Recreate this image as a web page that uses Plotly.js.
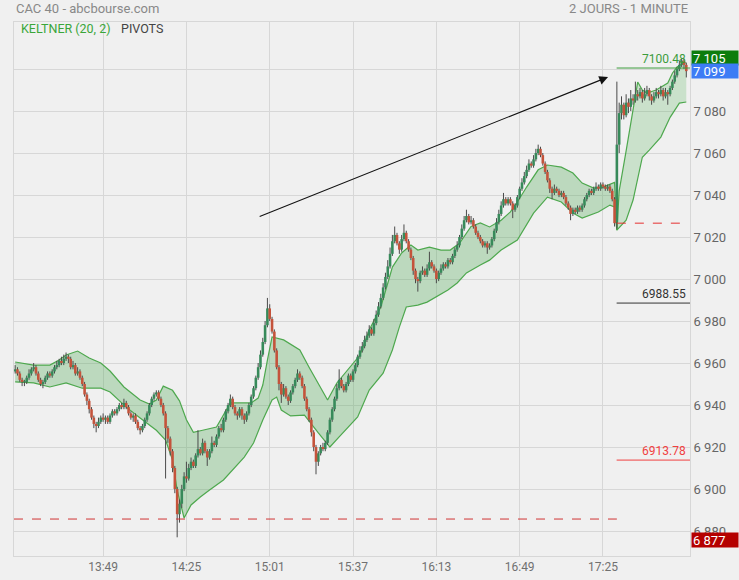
<!DOCTYPE html>
<html><head><meta charset="utf-8">
<script src="https://cdn.plot.ly/plotly-3.0.1.min.js"></script>
<style>html,body{margin:0;padding:0;background:#f0f0f0}#chart{width:739px;height:580px}</style>
</head><body><div id="chart"></div>
<script>
// one-minute session labels
function session(h, m, n) {
  var out = [];
  for (var k = 0; k < n; k++) {
    var t = h * 60 + m + k;
    out.push(String(Math.floor(t / 60)).padStart(2, '0') + ':' + String(t % 60).padStart(2, '0'));
  }
  return out;
}
const times = session(13, 11, 260).concat(session(9, 0, 31));
const tickLabels = ['13:49', '14:25', '15:01', '15:37', '16:13', '16:49', '17:25'];

const open = [
6956,6957,6955,6952,6951,6951,6953,6955,6957,6958,
6955,6952,6950,6951,6953,6955,6954,6956,6958,6959,
6961,6960,6962,6963,6962,6958,6959,6955,6956,6953,
6950,6945,6942,6938,6934,6931,6930,6932,6934,6933,
6934,6932,6935,6937,6936,6938,6940,6939,6941,6939,
6936,6934,6935,6932,6929,6928,6930,6933,6936,6940,
6943,6945,6946,6943,6940,6936,6929,6924,6918,6910,
6900,6888,6893,6900,6906,6905,6910,6913,6911,6916,
6919,6917,6922,6918,6915,6918,6922,6921,6925,6929,
6928,6933,6937,6940,6943,6939,6936,6935,6938,6935,
6933,6936,6940,6944,6948,6953,6958,6964,6970,6978,
6986,6981,6975,6966,6958,6950,6945,6948,6944,6942,
6946,6949,6952,6955,6953,6949,6943,6938,6933,6927,
6920,6913,6917,6920,6919,6922,6927,6933,6938,6943,
6948,6952,6949,6947,6950,6954,6952,6956,6959,6963,
6966,6968,6971,6973,6976,6974,6979,6983,6987,6991,
6996,7001,7006,7012,7018,7021,7017,7014,7019,7022,
7018,7014,7010,7004,7000,6999,7003,7004,7002,7005,
7008,7006,7004,7000,7003,7005,7007,7006,7009,7008,
7011,7014,7016,7020,7024,7028,7030,7027,7028,7025,
7022,7020,7018,7016,7017,7015,7016,7019,7023,7027,
7031,7035,7038,7036,7038,7036,7033,7035,7039,7043,
7046,7049,7052,7055,7054,7057,7060,7062,7059,7055,
7051,7047,7043,7041,7043,7042,7040,7041,7039,7036,
7034,7031,7033,7032,7034,7033,7035,7038,7040,7042,
7041,7043,7044,7043,7045,7044,7043,7044,7042,7038,
7027,7064,7079,7083,7078,7084,7082,7086,7085,7088,
7087,7089,7086,7088,7090,7087,7085,7087,7089,7088,
7090,7087,7089,7088,7091,7094,7097,7100,7102,7104,7102];

const high = [
6959,6958,6956,6953,6952,6954,6957,6958,6960,6959,
6956,6953,6952,6954,6956,6956,6957,6959,6961,6962,
6963,6964,6965,6964,6963,6961,6960,6958,6957,6954,
6951,6946,6943,6939,6935,6932,6934,6935,6936,6935,
6935,6936,6938,6938,6939,6941,6941,6943,6942,6940,
6937,6936,6936,6933,6930,6931,6934,6937,6941,6944,
6946,6947,6947,6944,6941,6937,6930,6925,6919,6911,
6901,6895,6902,6908,6913,6912,6915,6914,6917,6928,
6920,6924,6923,6919,6919,6925,6923,6926,6930,6931,
6934,6938,6941,6945,6944,6940,6937,6939,6939,6936,
6937,6941,6945,6949,6954,6960,6966,6972,6980,6991,
6988,6982,6976,6967,6959,6951,6950,6949,6945,6947,
6950,6953,6957,6956,6954,6950,6944,6939,6934,6928,
6921,6918,6921,6922,6923,6928,6934,6939,6944,6950,
6957,6953,6950,6951,6955,6955,6957,6960,6964,6968,
6970,6973,6975,6978,6977,6981,6985,6989,6993,6998,
7003,7009,7015,7021,7025,7022,7018,7021,7026,7023,
7019,7015,7011,7005,7001,7004,7006,7005,7007,7013,
7009,7007,7005,7004,7007,7008,7008,7010,7010,7012,
7015,7018,7021,7026,7030,7033,7031,7030,7029,7026,
7023,7021,7019,7018,7018,7017,7020,7024,7029,7033,
7037,7041,7039,7039,7039,7037,7036,7040,7044,7048,
7051,7054,7057,7056,7059,7062,7064,7063,7060,7056,
7052,7048,7044,7045,7044,7043,7042,7042,7040,7037,
7035,7034,7034,7035,7035,7036,7039,7041,7043,7043,
7044,7046,7045,7046,7046,7045,7045,7045,7043,7039,
7094,7084,7087,7084,7088,7086,7090,7088,7094,7090,
7091,7090,7091,7092,7091,7088,7089,7091,7090,7092,
7091,7091,7090,7092,7095,7099,7101,7104,7105,7105,7103];

const low = [
6955,6954,6951,6949,6949,6950,6952,6954,6956,6954,
6951,6949,6948,6950,6952,6953,6953,6955,6957,6958,
6959,6959,6961,6960,6957,6957,6954,6954,6952,6949,
6944,6940,6936,6933,6929,6927,6929,6931,6932,6931,
6931,6931,6934,6935,6935,6937,6938,6938,6938,6935,
6933,6932,6931,6928,6926,6927,6929,6932,6935,6939,
6942,6944,6942,6939,6935,6905,6922,6916,6908,6898,
6877,6884,6891,6899,6903,6904,6909,6910,6910,6915,
6916,6916,6917,6911,6914,6917,6920,6920,6924,6927,
6927,6932,6936,6939,6938,6935,6933,6934,6933,6931,
6932,6935,6939,6943,6947,6952,6957,6963,6969,6977,
6980,6974,6965,6957,6947,6941,6944,6943,6940,6941,
6945,6948,6951,6952,6948,6942,6937,6932,6925,6918,
6907,6911,6916,6918,6918,6921,6926,6932,6937,6942,
6947,6948,6946,6946,6949,6951,6951,6955,6958,6962,
6965,6967,6970,6972,6973,6973,6978,6982,6986,6990,
6995,7000,7005,7011,7017,7016,7012,7013,7018,7017,
7013,7009,7002,6998,6994,6998,7002,7001,7001,7004,
7005,7003,6998,6999,7002,7004,7005,7005,7007,7007,
7010,7013,7015,7019,7023,7027,7026,7026,7024,7021,
7019,7017,7015,7015,7012,7014,7015,7018,7022,7026,
7030,7034,7035,7035,7035,7029,7032,7034,7038,7042,
7045,7048,7051,7053,7053,7056,7059,7058,7054,7050,
7046,7041,7038,7040,7041,7039,7039,7038,7035,7033,
7028,7030,7031,7031,7032,7032,7034,7037,7039,7040,
7040,7042,7042,7042,7043,7042,7042,7041,7037,7025,
7024,7060,7076,7076,7077,7079,7080,7083,7084,7085,
7086,7084,7085,7087,7085,7083,7084,7086,7086,7087,
7085,7086,7083,7087,7090,7093,7096,7099,7101,7100,7096];

const close = [
6957,6955,6952,6951,6951,6953,6955,6957,6958,6955,
6952,6950,6951,6953,6955,6954,6956,6958,6959,6961,
6960,6962,6963,6962,6958,6959,6955,6956,6953,6950,
6945,6942,6938,6934,6931,6930,6932,6934,6933,6934,
6932,6935,6937,6936,6938,6940,6939,6941,6939,6936,
6934,6935,6932,6929,6928,6930,6933,6936,6940,6943,
6945,6946,6943,6940,6936,6929,6924,6918,6910,6900,
6888,6893,6900,6906,6905,6910,6913,6911,6916,6919,
6917,6922,6918,6915,6918,6922,6921,6925,6929,6928,
6933,6937,6940,6943,6939,6936,6935,6938,6935,6933,
6936,6940,6944,6948,6953,6958,6964,6970,6978,6986,
6981,6975,6966,6958,6950,6945,6948,6944,6942,6946,
6949,6952,6955,6953,6949,6943,6938,6933,6927,6920,
6913,6917,6920,6919,6922,6927,6933,6938,6943,6948,
6952,6949,6947,6950,6954,6952,6956,6959,6963,6966,
6968,6971,6973,6976,6974,6979,6983,6987,6991,6996,
7001,7006,7012,7018,7021,7017,7014,7019,7022,7018,
7014,7010,7004,7000,6999,7003,7004,7002,7005,7008,
7006,7004,7000,7003,7005,7007,7006,7009,7008,7011,
7014,7016,7020,7024,7028,7030,7027,7028,7025,7022,
7020,7018,7016,7017,7015,7016,7019,7023,7027,7031,
7035,7038,7036,7038,7036,7033,7035,7039,7043,7046,
7049,7052,7055,7054,7057,7060,7062,7059,7055,7051,
7047,7043,7041,7043,7042,7040,7041,7039,7036,7034,
7031,7033,7032,7034,7033,7035,7038,7040,7042,7041,
7043,7044,7043,7045,7044,7043,7044,7042,7038,7026.6,
7064,7079,7083,7078,7084,7082,7086,7085,7088,7087,
7089,7086,7088,7090,7087,7085,7087,7089,7088,7090,
7087,7089,7088,7091,7094,7097,7100,7102,7104,7102,7099];

// Keltner (20, 2) channel — day 1
const kUpperT = ['13:11','13:19','13:26','13:30','13:33','13:38','13:43','13:48','13:52','13:58',
  '14:05','14:09','14:12','14:15','14:19','14:22','14:25','14:28','14:32','14:38','14:44','14:48',
  '14:53','14:56','14:58','15:00','15:02','15:07','15:14','15:18','15:23','15:26','15:30','15:34',
  '15:40','15:44','15:49','15:52','15:54','15:58','16:02','16:05','16:10','16:15','16:19','16:23',
  '16:28','16:32','16:36','16:41','16:45','16:48','16:52','16:57','17:01','17:07','17:12','17:16',
  '17:21','17:25','17:30','09:00'];
const kUpper = [6960.5,6959,6959,6961.4,6963.8,6965.7,6962.4,6960,6956.2,6948.6,
  6942.4,6940.5,6942.4,6949,6947,6942,6933,6927,6928,6929.5,6941,6941,
  6941,6943.3,6949.5,6961.4,6972.4,6971,6966.2,6958,6948.6,6942.4,6950.5,6955.7,
  6963.8,6975.7,6986.7,6998,7005.7,7012.4,7016.2,7013.8,7015.2,7013.8,7013.8,7017,
  7025,7026.7,7024.8,7028,7032,7036.7,7043.8,7052,7054.3,7053.3,7050.5,7045.7,
  7043.3,7043.8,7046,7023.3];
const kLowerT = ['13:11','13:19','13:26','13:33','13:40','13:48','13:52','13:59','14:05','14:12',
  '14:16','14:19','14:21','14:24','14:27','14:31','14:35','14:41','14:50','14:54','14:58','15:02',
  '15:04','15:06','15:10','15:16','15:22','15:27','15:31','15:39','15:44','15:50','15:54','15:57',
  '16:00','16:05','16:09','16:13','16:18','16:22','16:26','16:32','16:36','16:41','16:48','16:55',
  '17:01','17:07','17:12','17:16','17:23','17:28','17:30','09:00'];
const kLower = [6951,6950.5,6948.6,6950.5,6948,6948,6946.2,6939,6933.8,6928,
  6923.3,6913.8,6899.5,6886.2,6892.4,6896.2,6899.5,6904.3,6915.2,6921.9,6932.9,6942.4,
  6943.8,6937.6,6934.8,6935.2,6926.7,6920,6924.8,6934.3,6947.1,6955.2,6966.2,6977.1,
  6986.7,6987.6,6989,6991.4,6994.8,6998.1,7002.9,7006.7,7009,7013.8,7018.6,7031.4,
  7039,7036.7,7031.4,7029,7031.9,7035.2,7034.3,7023.3];
// day 2
const k2UpperT = ['09:00','09:01','09:04','09:07','09:09','09:11','09:13','09:17','09:22','09:24','09:26','09:29','09:30'];
const k2Upper = [7023.3,7042,7061,7080,7093.8,7090,7088.6,7090,7093.3,7098,7101,7102.9,7103];
const k2LowerT = ['09:00','09:04','09:07','09:10','09:11','09:14','09:19','09:23','09:27','09:30'];
const k2Lower = [7023.3,7028,7037.6,7052,7058,7061.4,7067.6,7077,7083.8,7084.3];

const pivotValues = [7100.48, 6988.55, 6913.78];
const pivotLabels = ['7100.48', '6988.55', '6913.78'];
const prevCloseDay1 = 6885.7;
const prevCloseDay2 = 7026.6;
const yTicks = [6880, 6900, 6920, 6940, 6960, 6980, 7000, 7020, 7040, 7060, 7080, 7100];
const yTickText = ['6 880', '6 900', '6 920', '6 940', '6 960', '6 980', '7 000', '7 020', '7 040', '7 060', '7 080', ''];

// ---------- build ----------
const fmt = v => { const s = String(Math.round(v)); return s.slice(0, s.length - 3) + ' ' + s.slice(-3); };
const wx = [], wy = [], ux = [], uy = [], dx = [], dy = [];
for (let i = 0; i < times.length; i++) {
  wx.push(times[i], times[i], null); wy.push(low[i], high[i], null);
  if (close[i] >= open[i]) { ux.push(times[i], times[i], null); uy.push(open[i], Math.max(close[i], open[i] + 0.5), null); }
  else { dx.push(times[i], times[i], null); dy.push(open[i], close[i], null); }
}

const bandLine = { color: '#4ea84e', width: 1.2 };
const traces = [
  { type: 'scatter', mode: 'lines', x: kLowerT, y: kLower, line: bandLine, hoverinfo: 'skip' },
  { type: 'scatter', mode: 'lines', x: kUpperT, y: kUpper, line: bandLine, fill: 'tonexty', fillcolor: 'rgba(70,165,75,0.30)', hoverinfo: 'skip' },
  { type: 'scatter', mode: 'lines', x: k2LowerT, y: k2Lower, line: bandLine, hoverinfo: 'skip' },
  { type: 'scatter', mode: 'lines', x: k2UpperT, y: k2Upper, line: bandLine, fill: 'tonexty', fillcolor: 'rgba(70,175,75,0.22)', hoverinfo: 'skip' },
  { type: 'scatter', mode: 'lines', x: wx, y: wy, line: { color: '#4a4a4a', width: 1 }, hoverinfo: 'skip' },
  { type: 'scatter', mode: 'lines', x: ux, y: uy, line: { color: '#378a5a', width: 2.6 }, hoverinfo: 'skip' },
  { type: 'scatter', mode: 'lines', x: dx, y: dy, line: { color: '#c4533b', width: 2.6 }, hoverinfo: 'skip' }
];

const iDay2 = times.indexOf('09:00');
const xEnd = times.length + 0.6;
const pivotColors = ['#3c9c3c', '#333333', '#f04040'];
const shapes = [
  { type: 'line', xref: 'x', yref: 'y', x0: -0.5, x1: iDay2, y0: prevCloseDay1, y1: prevCloseDay1, line: { color: '#d03535', width: 1, dash: 'dash' } },
  { type: 'line', xref: 'x', yref: 'y', x0: iDay2, x1: times.length - 0.5, y0: prevCloseDay2, y1: prevCloseDay2, line: { color: '#e53030', width: 1, dash: 'dash' } }
];
const annotations = [];
pivotValues.forEach((v, k) => {
  shapes.push({ type: 'line', xref: 'x', yref: 'y', x0: iDay2 - 0.1, x1: xEnd, y0: v, y1: v, line: { color: pivotColors[k], width: 1 } });
  annotations.push({ xref: 'paper', yref: 'y', x: 1, y: v, xanchor: 'right', yanchor: 'bottom', xshift: -2, yshift: 0,
    text: pivotLabels[k], showarrow: false, font: { family: 'Roboto', size: 12, color: pivotColors[k] } });
});

const hi = Math.max(...high), lo = Math.min(...low), last = close[close.length - 1];
const box = (txt, y, bg, ys) => ({ xref: 'paper', yref: 'y', x: 1, y: y, xanchor: 'left', yanchor: 'middle', xshift: 1, yshift: ys,
  text: txt, showarrow: false, bgcolor: bg, width: 44, height: 12, align: 'left', borderpad: 1,
  font: { family: 'Roboto', size: 13, color: '#ffffff' } });
annotations.push(box(fmt(hi), hi, '#0d7d0d', 1));
annotations.push(box(fmt(last), last, '#3d7cf5', 0));
annotations.push(box(fmt(lo), lo, '#b50000', -3));

// trend arrow
annotations.push({ xref: 'x', yref: 'y', axref: 'x', ayref: 'y', x: 256.2, y: 7096.2, ax: 105, ay: 7029.5,
  text: '', showarrow: true, arrowhead: 2, arrowsize: 1.6, arrowwidth: 1.1, arrowcolor: '#111', standoff: 0 });

// header texts
annotations.push({ xref: 'paper', yref: 'paper', x: 0, y: 1.026, xanchor: 'left', yanchor: 'middle', text: 'CAC 40 - abcbourse.com', showarrow: false, font: { family: 'Roboto', size: 13, color: '#888' } });
annotations.push({ xref: 'paper', yref: 'paper', x: 1, y: 1.026, xanchor: 'right', yanchor: 'middle', text: '2 JOURS - 1 MINUTE', showarrow: false, font: { family: 'Roboto', size: 13, color: '#888' } });
annotations.push({ xref: 'paper', yref: 'paper', x: 0.0075, y: 0.988, xanchor: 'left', yanchor: 'middle', text: 'KELTNER (20, 2)', showarrow: false, font: { family: 'Roboto', size: 12.5, color: '#3aa63a' } });
annotations.push({ xref: 'paper', yref: 'paper', x: 0.156, y: 0.988, xanchor: 'left', yanchor: 'middle', text: 'PIVOTS', showarrow: false, font: { family: 'Roboto', size: 12.5, color: '#444' } });

const layout = {
  width: 739, height: 580,
  margin: { l: 14, r: 49, t: 22, b: 24 },
  paper_bgcolor: '#f0f0f0', plot_bgcolor: '#f0f0f0',
  showlegend: false, hovermode: false,
  font: { family: 'Roboto', color: '#666' },
  xaxis: { type: 'category', categoryorder: 'array', categoryarray: times, range: [-0.5, xEnd],
    tickvals: tickLabels, ticktext: tickLabels, ticks: '', showgrid: true, gridcolor: '#d7d7d7', gridwidth: 1,
    showline: true, mirror: true, linecolor: '#d7d7d7', linewidth: 1, zeroline: false,
    tickfont: { family: 'Roboto', size: 12, color: '#707070' } },
  yaxis: { side: 'right', range: [6868.1, 7122.4], tickvals: yTicks, ticktext: yTickText, ticks: '',
    showgrid: true, gridcolor: '#d7d7d7', gridwidth: 1, showline: true, mirror: true, linecolor: '#d7d7d7', zeroline: false,
    tickfont: { family: 'Roboto', size: 13, color: '#666' } },
  shapes: shapes, annotations: annotations
};
Plotly.newPlot('chart', traces, layout, { staticPlot: true, displayModeBar: false });
</script></body></html>
